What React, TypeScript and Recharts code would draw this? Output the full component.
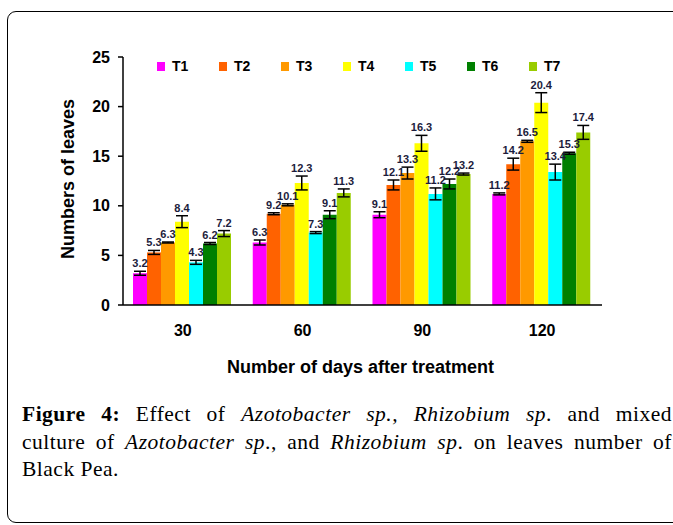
import React from 'react';
import { BarChart, Bar, XAxis, YAxis, Legend, ErrorBar, LabelList } from 'recharts';

const categories = ['30', '60', '90', '120'];
const seriesNames = ['T1', 'T2', 'T3', 'T4', 'T5', 'T6', 'T7'];
const seriesColors = ['#FF00FF', '#FF6200', '#FF9900', '#FFFF00', '#00FFFF', '#008000', '#99CC00'];

const t1 = [3.2, 6.3, 9.1, 11.2];
const t2 = [5.3, 9.2, 12.1, 14.2];
const t3 = [6.3, 10.1, 13.3, 16.5];
const t4 = [8.4, 12.3, 16.3, 20.4];
const t5 = [4.3, 7.3, 11.2, 13.4];
const t6 = [6.2, 9.1, 12.2, 15.3];
const t7 = [7.2, 11.3, 13.2, 17.4];

const t1Err = [0.2, 0.25, 0.3, 0.1];
const t2Err = [0.2, 0.1, 0.5, 0.6];
const t3Err = [0.05, 0.1, 0.6, 0.1];
const t4Err = [0.6, 0.7, 0.8, 1.0];
const t5Err = [0.2, 0.1, 0.6, 0.8];
const t6Err = [0.1, 0.4, 0.5, 0.1];
const t7Err = [0.3, 0.4, 0.1, 0.7];

const yTicks = [0, 5, 10, 15, 20, 25];

const seriesValues = [t1, t2, t3, t4, t5, t6, t7];
const seriesErrors = [t1Err, t2Err, t3Err, t4Err, t5Err, t6Err, t7Err];

const data = categories.map((c, i) => {
  const row: any = { day: c };
  seriesNames.forEach((n, k) => {
    row[n] = seriesValues[k][i];
    row[n + '_err'] = seriesErrors[k][i];
  });
  return row;
});

const PLOT_H = 248;
const PX_PER_UNIT = PLOT_H / 25;
const FONT = '"Liberation Sans", Arial, sans-serif';

const makeLabel = (errs: number[]) => (props: any) => {
  const { x, y, width, value, index } = props;
  const errPx = (errs[index] || 0) * PX_PER_UNIT;
  return (
    <text
      x={x + width / 2}
      y={y - errPx - 4}
      textAnchor="middle"
      fontSize={11}
      fontWeight="bold"
      fill="#1c1c3c"
      fontFamily={FONT}
    >
      {value}
    </text>
  );
};

const renderLegend = (props: any) => {
  const { payload } = props;
  return (
    <div style={{ position: 'relative', height: 16, width: 673 }}>
      {(payload || []).map((entry: any, i: number) => (
        <div
          key={entry.value}
          style={{
            position: 'absolute',
            left: 157 + i * 62,
            top: 0,
            display: 'flex',
            alignItems: 'center',
            fontFamily: FONT,
            fontWeight: 'bold',
            fontSize: 14,
            color: '#000',
          }}
        >
          <span style={{ display: 'inline-block', width: 8, height: 9, background: entry.color, marginRight: 7 }} />
          <span>{entry.value}</span>
        </div>
      ))}
    </div>
  );
};

const yLabel = (props: any) => {
  const vb = props.viewBox || { x: 63, y: 57 };
  const cx = vb.x + 5;
  const cy = vb.y + 122;
  return (
    <text
      x={cx}
      y={cy}
      transform={`rotate(-90, ${cx}, ${cy})`}
      textAnchor="middle"
      dominantBaseline="central"
      fontSize={18}
      fontWeight="bold"
      fill="#000"
      fontFamily={FONT}
    >
      Numbers of leaves
    </text>
  );
};

const xLabel = (props: any) => {
  const vb = props.viewBox || { x: 123, y: 305, width: 479 };
  return (
    <text
      x={vb.x + vb.width / 2 - 2}
      y={vb.y + 62}
      textAnchor="middle"
      dominantBaseline="central"
      fontSize={18}
      fontWeight="bold"
      fill="#000"
      fontFamily={FONT}
    >
      Number of days after treatment
    </text>
  );
};

export default function App() {
  return (
    <div style={{ position: 'fixed', left: 0, top: 0, width: 673, height: 525, overflow: 'hidden', background: '#fff' }}>
      <div
        style={{
          position: 'absolute',
          left: 7,
          top: 11,
          width: 720,
          height: 512,
          border: '1.5px solid #000',
          borderRadius: 9,
          boxSizing: 'border-box',
        }}
      />
      <div style={{ position: 'absolute', left: 0, top: 0 }}>
        <BarChart
          width={673}
          height={400}
          data={data}
          margin={{ top: 57, right: 71, bottom: 65, left: 63 }}
          barCategoryGap={10}
          barGap={0}
          style={{ fontFamily: FONT }}
        >
          <XAxis
            dataKey="day"
            stroke="#000"
            strokeWidth={1.5}
            tickLine={false}
            tickSize={6}
            tickMargin={14}
            height={30}
            tick={{ fill: '#000', fontSize: 16, fontWeight: 'bold' }}
            label={{ content: xLabel }}
          />
          <YAxis
            domain={[0, 25]}
            ticks={yTicks}
            width={60}
            stroke="#000"
            strokeWidth={1.5}
            tickSize={5}
            tickMargin={8}
            tick={{ fill: '#000', fontSize: 16, fontWeight: 'bold' }}
            label={{ content: yLabel }}
          />
          <Legend
            layout="horizontal"
            verticalAlign="middle"
            align="center"
            content={renderLegend}
            wrapperStyle={{ top: 58, left: 0, width: 673 }}
          />
          {seriesNames.map((n, k) => (
            <Bar key={n} dataKey={n} name={n} fill={seriesColors[k]} isAnimationActive={false}>
              <ErrorBar dataKey={n + '_err'} width={6} stroke="#000" strokeWidth={1.5} />
              <LabelList dataKey={n} content={makeLabel(seriesErrors[k])} />
            </Bar>
          ))}
        </BarChart>
      </div>
      <div
        style={{
          position: 'absolute',
          left: 22,
          top: 401,
          width: 650,
          fontFamily: '"Liberation Serif", "Times New Roman", serif',
          fontSize: 21.5,
          lineHeight: '27.5px',
          color: '#000',
          whiteSpace: 'nowrap',
          letterSpacing: '0.5px',
        }}
      >
        <div style={{ textAlign: 'justify', textAlignLast: 'justify' }}>
          <b>Figure 4:</b> Effect of <i>Azotobacter sp., Rhizobium sp</i>. and mixed
        </div>
        <div style={{ textAlign: 'justify', textAlignLast: 'justify' }}>
          culture of <i>Azotobacter sp</i>., and <i>Rhizobium sp</i>. on leaves number of
        </div>
        <div>Black Pea.</div>
      </div>
    </div>
  );
}
